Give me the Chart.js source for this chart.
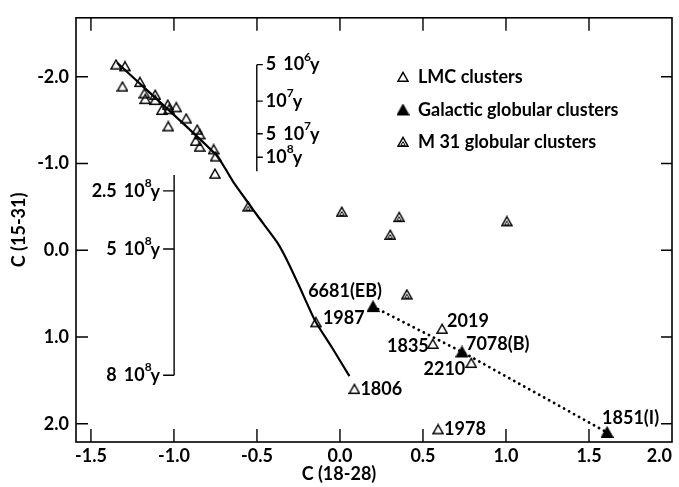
<!DOCTYPE html>
<html><head><meta charset="utf-8">
<script src="https://cdn.jsdelivr.net/npm/chart.js@4"></script>
<style>html,body{margin:0;padding:0;background:#fff}</style>
</head><body>
<canvas id="c" width="679" height="487"></canvas>
<script>
// ---------- data ----------
const lmcX = [-1.349,-1.295,-1.310,-1.205,-1.178,-1.173,-1.113,-1.113,-1.037,-1.073,-1.029,-0.986,-1.034,-0.926,-0.860,-0.845,-0.869,-0.845,-0.761,-0.749,-0.753,-0.145,0.087,0.615,0.559,0.791,0.591];
const lmcY = [-2.140,-2.120,-1.886,-1.939,-1.807,-1.742,-1.791,-1.731,-1.677,-1.617,-1.625,-1.648,-1.427,-1.518,-1.390,-1.336,-1.261,-1.193,-1.163,-1.080,-0.882,0.831,1.600,0.906,1.080,1.300,2.065];
const lmcNames = ['','','','','','','','','','','','','','','','','','','','','','1987','1806','2019','1835','2210','1978'];

const galX = [0.199, 0.735, 1.609];
const galY = [0.649, 1.172, 2.100];
const galNames = ['6681(EB)','7078(B)','1851(I)'];

const m31X = [-0.553, 0.011, 0.357, 0.303, 0.403, 1.005];
const m31Y = [-0.503, -0.443, -0.382, -0.177, 0.511, -0.333];

const modelX = [-1.342,-0.749,-0.639,-0.549,-0.489,-0.379,-0.319,-0.249,-0.149,-0.049,0.057];
const modelY = [-2.162,-1.106,-0.777,-0.538,-0.378,-0.094,0.114,0.398,0.815,1.118,1.451];

const xTickValues = [-1.5,-1.0,-0.5,0.0,0.5,1.0,1.5,2.0];
const xTickLabels = ['-1.5','-1.0','-0.5','0.0','0.5','1.0','1.5','2.0'];
const yTickValues = [-2,-1,0,1,2];
const yTickLabels = ['-2.0','-1.0','0.0','1.0','2.0'];

// age scales (value positions on the C(15-31) axis)
const ageA_x = -0.501;
const ageA_y = [-2.14,-1.719,-1.344,-1.072];
const ageA_mant = ['5','','5',''];
const ageA_exp = ['6','7','7','8'];
const ageA_end = -0.912;

const ageB_x = -0.999;
const ageB_y = [-0.685,-0.015,1.44];
const ageB_mant = ['2.5','5','8'];
const ageB_exp = ['8','8','8'];
const ageB_start = -0.867;

// ---------- styling ----------
const FONT = 'Lato, "Open Sans", sans-serif';
const FW = 'bold';
const FS = 18;
const fnt = {family: FONT, size: FS, weight: FW};
const BIG = FW + ' ' + FS + 'px ' + FONT;
const SMALL = FW + ' 12px ' + FONT;
const labelOffsets = {
  '1987':{dx:7,dy:-4,al:'left'}, '1806':{dx:6,dy:0,al:'left'}, '2019':{dx:5,dy:-8,al:'left'},
  '1835':{dx:-4,dy:2,al:'right'}, '2210':{dx:-6,dy:6,al:'right'}, '1978':{dx:6,dy:0,al:'left'},
  '6681(EB)':{dx:9,dy:-15,al:'right'}, '7078(B)':{dx:4,dy:-8,al:'left'}, '1851(I)':{dx:-5,dy:-14,al:'left'}
};

function makeMarker(kind){
  const s = kind==='gal' ? 13 : 12;
  const c = document.createElement('canvas'); c.width = s; c.height = s;
  const g = c.getContext('2d');
  g.strokeStyle = '#000'; g.fillStyle = '#000'; g.lineWidth = 1.4; g.lineJoin = 'miter';
  g.beginPath(); g.moveTo(s/2, 1.3); g.lineTo(s-1, s-1.8); g.lineTo(1, s-1.8); g.closePath();
  if (kind==='gal') g.fill();
  g.stroke();
  if (kind==='m31'){
    g.lineWidth = 1;
    g.beginPath(); g.moveTo(s/2, s*0.47); g.lineTo(s/2+2.2, s*0.78); g.lineTo(s/2-2.2, s*0.78); g.closePath(); g.stroke();
  }
  return c;
}
const mkLMC = makeMarker('lmc'), mkGal = makeMarker('gal'), mkM31 = makeMarker('m31');

const pts = (xs, ys) => xs.map((x,i)=>({x, y: ys[i]}));

function expLabel(ctx, x, y, mant, exp, align){
  ctx.font = BIG; const wM = mant ? ctx.measureText(mant).width + 7 : 0;
  const w10 = ctx.measureText('10').width, wy = ctx.measureText('y').width;
  ctx.font = SMALL; const we = ctx.measureText(exp).width;
  const total = wM + w10 + we + wy - 1;
  let sx = align==='right' ? x - total : x;
  ctx.textAlign = 'left'; ctx.textBaseline = 'middle';
  ctx.font = BIG;
  if (mant) ctx.fillText(mant, sx, y);
  sx += wM; ctx.fillText('10', sx, y); sx += w10;
  ctx.font = SMALL; ctx.fillText(exp, sx, y - 8); sx += we - 1;
  ctx.font = BIG; ctx.fillText('y', sx, y + 1);
}

const deco = {
  id: 'deco',
  afterDatasetsDraw(chart){
    const {ctx, chartArea: a, scales: {x, y}} = chart;
    ctx.save();
    ctx.strokeStyle = '#000'; ctx.fillStyle = '#000';
    // frame
    ctx.lineWidth = 1.6;
    ctx.strokeRect(a.left, a.top, a.right - a.left, a.bottom - a.top);
    // inward ticks
    ctx.lineWidth = 1.4;
    ctx.beginPath();
    xTickValues.forEach(v => {
      const px = x.getPixelForValue(v);
      if (px > a.right - 2) return;
      ctx.moveTo(px, a.bottom); ctx.lineTo(px, a.bottom - 13);
      ctx.moveTo(px, a.top); ctx.lineTo(px, a.top + 13);
    });
    yTickValues.forEach(v => {
      const py = y.getPixelForValue(v);
      ctx.moveTo(a.left, py); ctx.lineTo(a.left + 12, py);
      ctx.moveTo(a.right, py); ctx.lineTo(a.right - 11, py);
    });
    ctx.stroke();
    // x title
    ctx.font = BIG; ctx.textAlign = 'center'; ctx.textBaseline = 'middle';
    ctx.fillText('C (18-28)', x.getPixelForValue(0) - 1, 474);
    // age scale A
    ctx.lineWidth = 1.4;
    const ax = x.getPixelForValue(ageA_x);
    ctx.beginPath();
    ctx.moveTo(ax, y.getPixelForValue(ageA_y[0])); ctx.lineTo(ax, y.getPixelForValue(ageA_end));
    ageA_y.forEach(v => { const py = y.getPixelForValue(v); ctx.moveTo(ax, py); ctx.lineTo(ax + 6, py); });
    ctx.stroke();
    ageA_y.forEach((v,i) => expLabel(ctx, ax + 9, y.getPixelForValue(v), ageA_mant[i], ageA_exp[i], 'left'));
    // age scale B
    const bx = x.getPixelForValue(ageB_x);
    const bBot = y.getPixelForValue(ageB_y[ageB_y.length-1]);
    ctx.beginPath();
    ctx.moveTo(bx, y.getPixelForValue(ageB_start)); ctx.lineTo(bx, bBot);
    ageB_y.forEach(v => { const py = y.getPixelForValue(v); ctx.moveTo(bx, py); ctx.lineTo(bx - 11, py); });
    ctx.stroke();
    ageB_y.forEach((v,i) => expLabel(ctx, bx - 14, y.getPixelForValue(v), ageB_mant[i], ageB_exp[i], 'right'));
    // point labels
    ctx.font = BIG; ctx.textBaseline = 'middle';
    chart.data.datasets.forEach((ds, di) => {
      if (!ds.names) return;
      const meta = chart.getDatasetMeta(di);
      ds.names.forEach((n, i) => {
        if (!n) return;
        const o = labelOffsets[n]; const el = meta.data[i];
        ctx.textAlign = o.al;
        ctx.fillText(n, el.x + o.dx, el.y + o.dy);
      });
    });
    // legend
    const rows = [77, 110, 142];
    [0,1,2].forEach(k => {
      const ds = chart.data.datasets[k];
      const img = ds.pointStyle;
      ctx.drawImage(img, 403 - img.width/2, rows[k] - img.height/2);
      ctx.textAlign = 'left'; ctx.fillText(ds.label, 418, rows[k]);
    });
    ctx.restore();
  }
};

new Chart(document.getElementById('c'), {
  type: 'scatter',
  data: { datasets: [
    { label: 'LMC clusters', data: pts(lmcX, lmcY), names: lmcNames, pointStyle: mkLMC, pointRadius: 6, showLine: false },
    { label: 'Galactic globular clusters', data: pts(galX, galY), names: galNames, pointStyle: mkGal, pointRadius: 6, showLine: false },
    { label: 'M 31 globular clusters', data: pts(m31X, m31Y), pointStyle: mkM31, pointRadius: 6, showLine: false },
    { label: 'model', data: pts(modelX, modelY), showLine: true, pointRadius: 0, borderColor: '#000', borderWidth: 2.2, tension: 0.2 },
    { label: 'galactic sequence', data: pts(galX, galY), showLine: true, pointRadius: 0, borderColor: '#000', borderWidth: 2.8, borderDash: [0.1, 5.6], borderCapStyle: 'round' }
  ]},
  options: {
    responsive: false, devicePixelRatio: 1, animation: false,
    layout: { padding: { top: 12, right: 5, bottom: 0, left: 0 } },
    plugins: { legend: { display: false }, tooltip: { enabled: false } },
    scales: {
      x: {
        type: 'linear', min: -1.59, max: 2.0,
        afterBuildTicks: s => { s.ticks = [{value: s.min}].concat(xTickValues.map(v => ({value: v}))); },
        ticks: { callback: (v, i) => i === 0 ? '' : xTickLabels[i-1], align: 'inner', padding: 3, font: fnt, color: '#000', autoSkip: false, maxRotation: 0 },
        grid: { display: false, drawTicks: false }, border: { display: false },
        afterFit: s => { s.height = 45; }
      },
      y: {
        type: 'linear', reverse: true, min: -2.68, max: 2.21,
        afterBuildTicks: s => { s.ticks = yTickValues.map(v => ({value: v})); },
        ticks: { callback: (v, i) => yTickLabels[i], padding: 7, font: fnt, color: '#000' },
        grid: { display: false, drawTicks: false }, border: { display: false },
        title: { display: true, text: 'C (15-31)', font: fnt, color: '#000', padding: { top: 8, bottom: 0 } },
        afterFit: s => { s.width = 76; }
      }
    }
  },
  plugins: [deco]
});
</script>
</body></html>
